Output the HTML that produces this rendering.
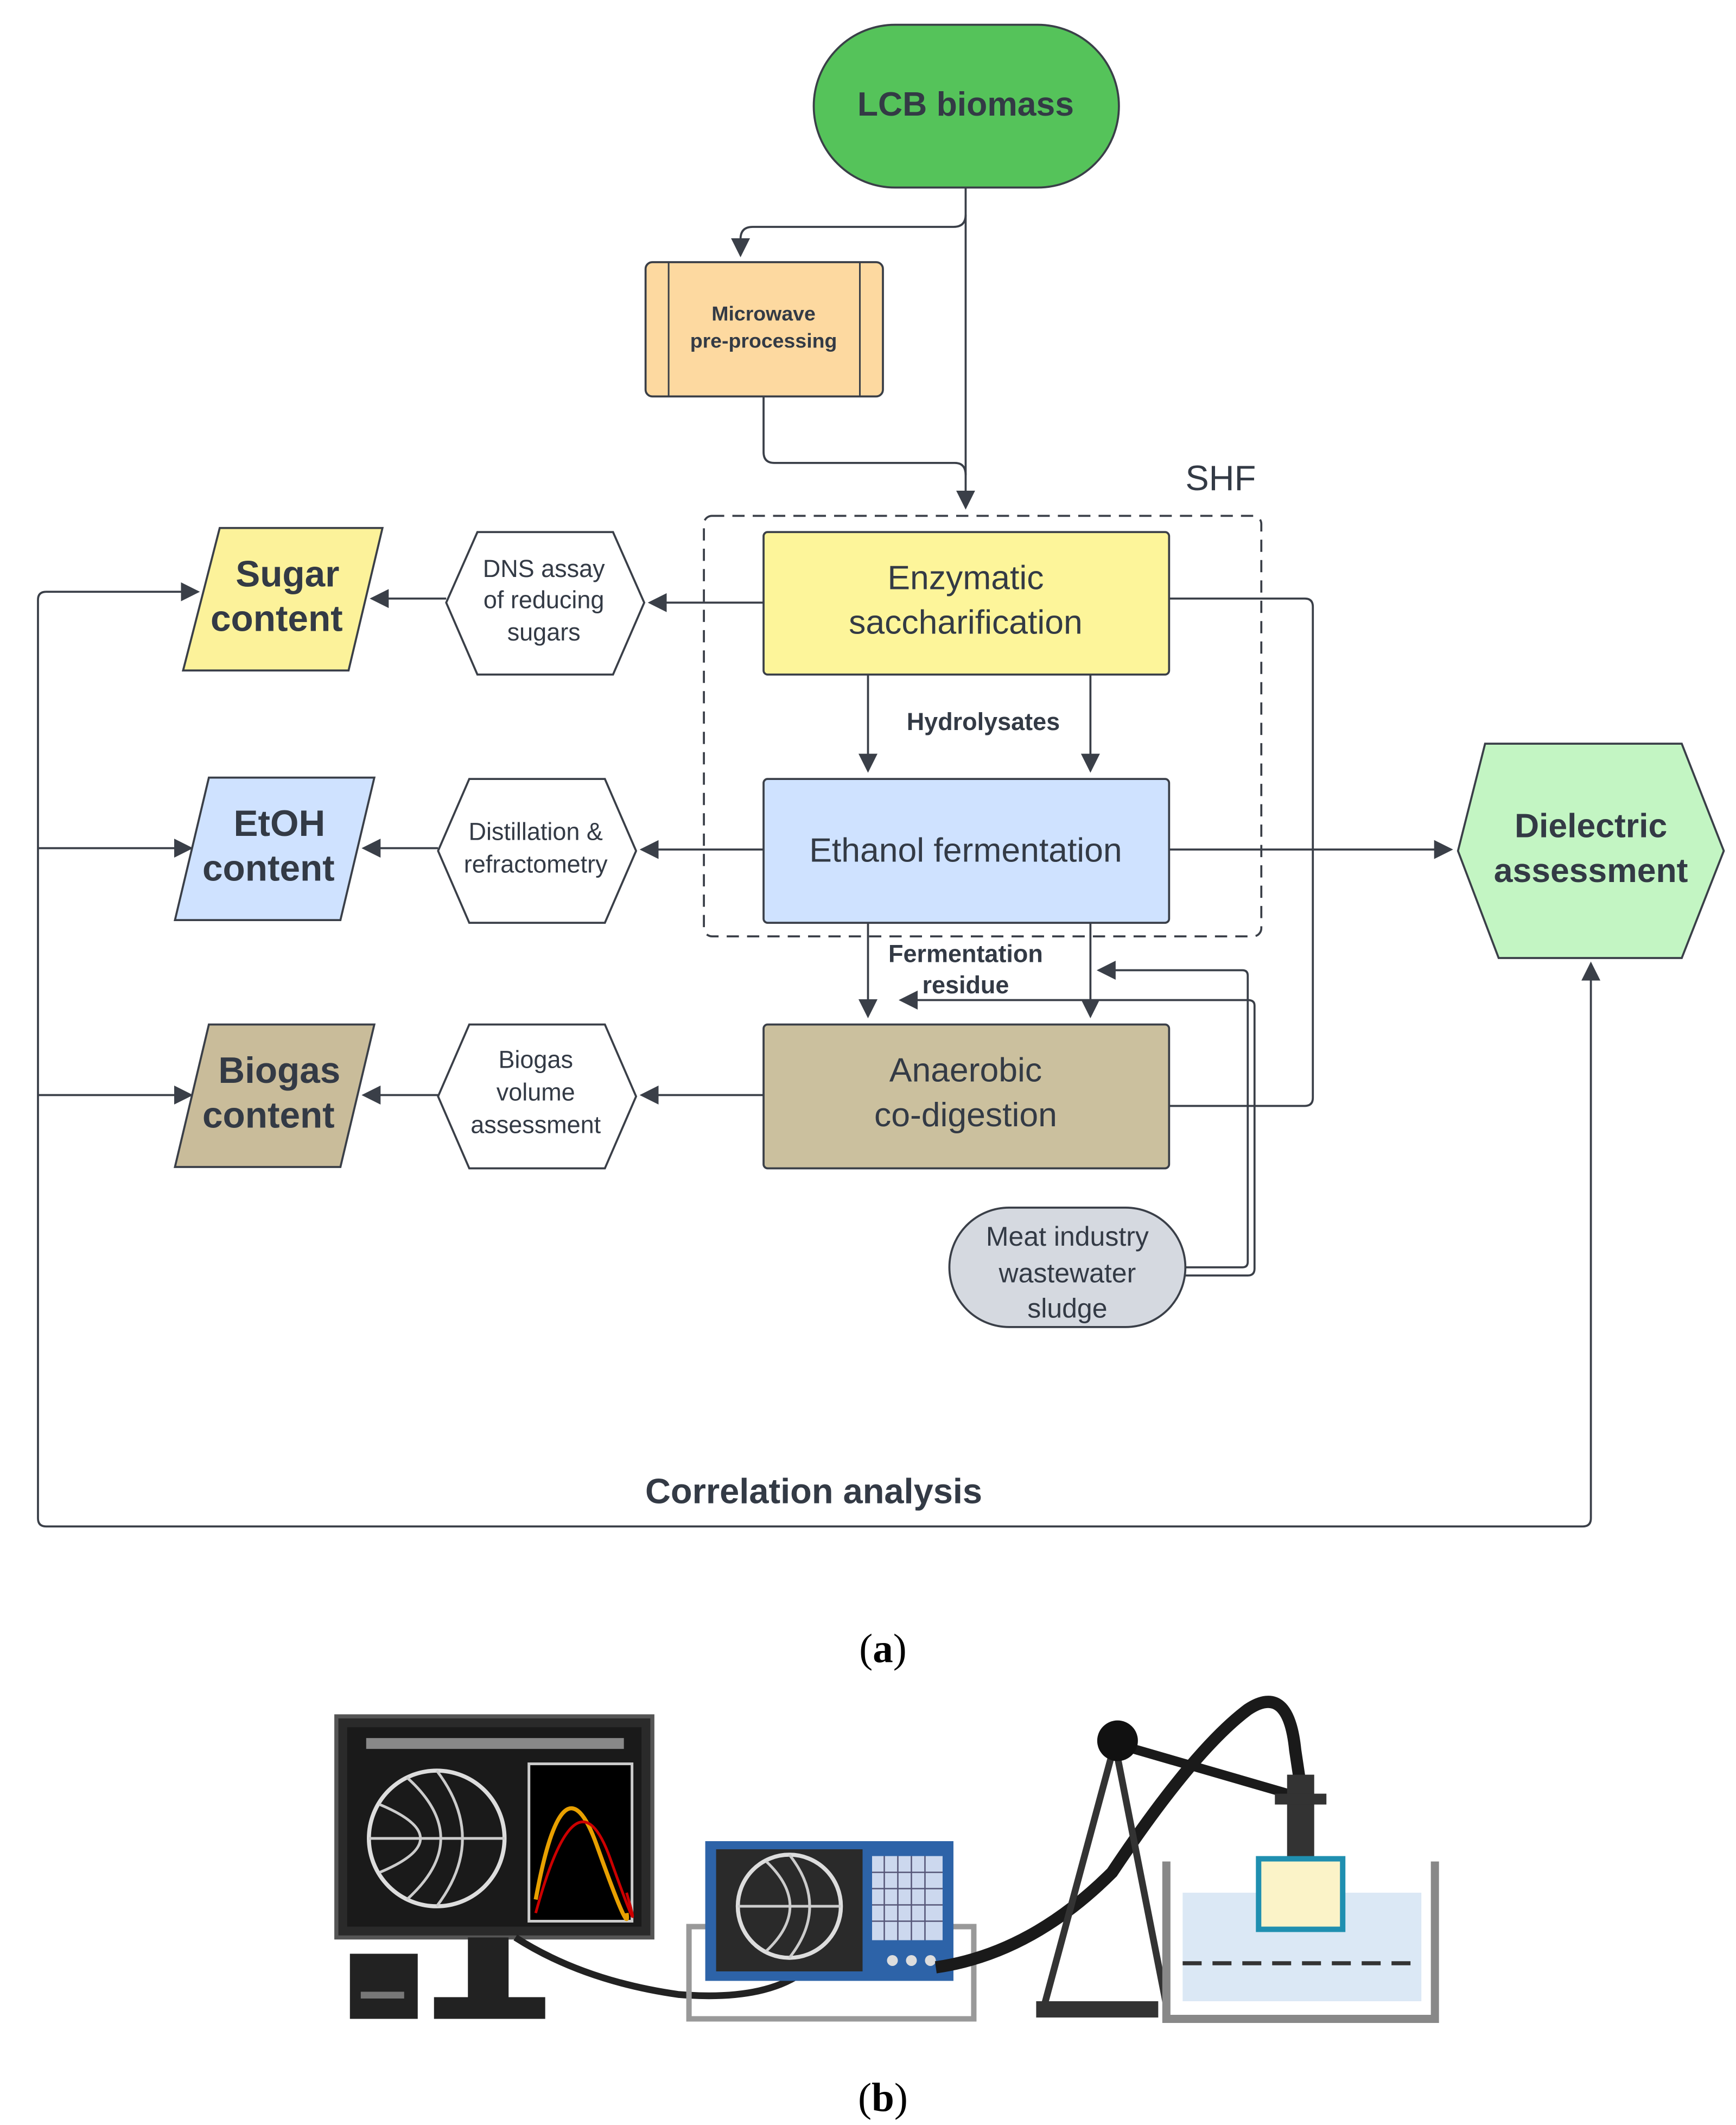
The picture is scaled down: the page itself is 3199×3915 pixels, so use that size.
<!DOCTYPE html>
<html><head><meta charset="utf-8"><style>
html,body{margin:0;padding:0;background:#fff}
svg{display:block}
text{font-family:"Liberation Sans",sans-serif;fill:#333a45}
</style></head><body>
<svg width="3199" height="3915" viewBox="0 0 1280 1566" xmlns="http://www.w3.org/2000/svg">
<defs>
<marker id="b" viewBox="0 0 10 10" refX="9" refY="5" markerWidth="14" markerHeight="14" markerUnits="userSpaceOnUse" orient="auto"><path d="M0,0 L10,5 L0,10 z" fill="#3a3f48"/></marker>
</defs>
<rect width="1280" height="1566" fill="#fff"/>
<g stroke="#3a3f48" stroke-width="1.5" fill="none">
<path d="M712,138 V374" marker-end="url(#b)"/>
<path d="M712,158 Q712,167 703,167 H555 Q546,167 546,176 V188" marker-end="url(#b)"/>
<path d="M563,292 V333 Q563,341 571,341 H704 Q712,341 712,350"/>
<rect x="519" y="380" width="411" height="310" rx="6" stroke-dasharray="9,6"/>
<path d="M640,497 V568" marker-end="url(#b)"/>
<path d="M804,497 V568" marker-end="url(#b)"/>
<path d="M640,680 V749" marker-end="url(#b)"/>
<path d="M804,680 V749" marker-end="url(#b)"/>
<path d="M874,934 H916 Q920,934 920,930 V719 Q920,715 916,715 H810" marker-end="url(#b)"/>
<path d="M874,940 H920 Q925,940 925,935 V741 Q925,737 920,737 H664" marker-end="url(#b)"/>
<path d="M862,441 H962 Q968,441 968,447 V809 Q968,815 962,815 H862"/>
<path d="M862,626 H1070" marker-end="url(#b)"/>
<path d="M563,444 H479" marker-end="url(#b)"/>
<path d="M329,441 H274" marker-end="url(#b)"/>
<path d="M563,626 H473" marker-end="url(#b)"/>
<path d="M323,625 H268" marker-end="url(#b)"/>
<path d="M563,807 H473" marker-end="url(#b)"/>
<path d="M323,807 H268" marker-end="url(#b)"/>
<path d="M34,436 Q28,436 28,442 V1119 Q28,1125 34,1125 H1167 Q1173,1125 1173,1119 V710" marker-end="url(#b)"/>
<path d="M34,436 H146" marker-end="url(#b)"/>
<path d="M28,625 H141" marker-end="url(#b)"/>
<path d="M28,807 H141" marker-end="url(#b)"/>
</g>
<g stroke="#3a3f48" stroke-width="1.5">
<rect x="600" y="18" width="225" height="120" rx="60" fill="#55c35a"/>
<rect x="476" y="193" width="175" height="99" rx="5" fill="#fdd9a0"/>
<rect x="563" y="392" width="299" height="105" rx="3" fill="#fdf59a"/>
<rect x="563" y="574" width="299" height="106" rx="3" fill="#cfe2ff"/>
<rect x="563" y="755" width="299" height="106" rx="3" fill="#cbc09e"/>
<rect x="700" y="890" width="174" height="88" rx="44" fill="#d5d9e0"/>
<polygon points="1095,548 1240,548 1271,627 1240,706 1105,706 1075,627" fill="#c3f5c3"/>
<polygon points="352,392 452,392 475,444 452,497 352,497 329,444" fill="#fff"/>
<polygon points="346,574 446,574 469,627 446,680 346,680 323,627" fill="#fff"/>
<polygon points="346,755 446,755 469,808 446,861 346,861 323,808" fill="#fff"/>
<polygon points="162,389 282,389 257,494 135,494" fill="#fcf29a"/>
<polygon points="154,573 276,573 251,678 129,678" fill="#cfe2ff"/>
<polygon points="154,755 276,755 251,860 129,860" fill="#c9bc9a"/>
</g>
<g stroke="#3a3f48" stroke-width="1.2"><line x1="493" y1="193" x2="493" y2="292"/><line x1="634" y1="193" x2="634" y2="292"/></g>
<g text-anchor="middle">
<text x="712" y="85" font-size="25" font-weight="bold">LCB biomass</text>
<text x="563" y="236" font-size="15" font-weight="bold">Microwave</text>
<text x="563" y="256" font-size="15" font-weight="bold">pre-processing</text>
<text x="900" y="361" font-size="26">SHF</text>
<text x="712" y="434" font-size="25">Enzymatic</text>
<text x="712" y="467" font-size="25">saccharification</text>
<text x="725" y="538" font-size="18" font-weight="bold">Hydrolysates</text>
<text x="712" y="635" font-size="25">Ethanol fermentation</text>
<text x="712" y="709" font-size="18" font-weight="bold">Fermentation</text>
<text x="712" y="732" font-size="18" font-weight="bold">residue</text>
<text x="712" y="797" font-size="25">Anaerobic</text>
<text x="712" y="830" font-size="25">co-digestion</text>
<text x="787" y="918" font-size="20">Meat industry</text>
<text x="787" y="945" font-size="20">wastewater</text>
<text x="787" y="971" font-size="20">sludge</text>
<text x="1173" y="617" font-size="25" font-weight="bold">Dielectric</text>
<text x="1173" y="650" font-size="25" font-weight="bold">assessment</text>
<text x="401" y="425" font-size="18">DNS assay</text>
<text x="401" y="448" font-size="18">of reducing</text>
<text x="401" y="472" font-size="18">sugars</text>
<text x="395" y="619" font-size="18">Distillation &amp;</text>
<text x="395" y="643" font-size="18">refractometry</text>
<text x="395" y="787" font-size="18">Biogas</text>
<text x="395" y="811" font-size="18">volume</text>
<text x="395" y="835" font-size="18">assessment</text>
<text x="212" y="432" font-size="27" font-weight="bold">Sugar</text>
<text x="204" y="465" font-size="27" font-weight="bold">content</text>
<text x="206" y="616" font-size="27" font-weight="bold">EtOH</text>
<text x="198" y="649" font-size="27" font-weight="bold">content</text>
<text x="206" y="798" font-size="27" font-weight="bold">Biogas</text>
<text x="198" y="831" font-size="27" font-weight="bold">content</text>
<text x="600" y="1108" font-size="26" font-weight="bold">Correlation analysis</text>
<text x="651" y="1225" font-size="30" style="font-family:'Liberation Serif',serif;fill:#000">(<tspan font-weight="bold">a</tspan>)</text>
<text x="651" y="1556" font-size="30" style="font-family:'Liberation Serif',serif;fill:#000">(<tspan font-weight="bold">b</tspan>)</text>
</g>
<g>
<rect x="248" y="1265" width="233" height="163" fill="#2a2a2a" stroke="#555" stroke-width="3"/>
<rect x="256" y="1273" width="217" height="147" fill="#1a1a1a"/>
<rect x="270" y="1281" width="190" height="8" fill="#888"/>
<circle cx="322" cy="1355" r="50" fill="none" stroke="#ddd" stroke-width="3"/>
<path d="M272,1355 H372 M322,1305 Q360,1355 322,1405 M300,1310 Q350,1355 300,1400 M280,1330 Q340,1355 280,1380" stroke="#ccc" stroke-width="2" fill="none"/>
<rect x="390" y="1300" width="76" height="116" fill="#000" stroke="#ccc" stroke-width="2"/>
<path d="M395,1400 Q415,1290 440,1360 T462,1410" stroke="#e8a000" stroke-width="3" fill="none"/>
<path d="M395,1410 Q425,1300 450,1370 T462,1395" stroke="#c00" stroke-width="2" fill="none"/>
<rect x="345" y="1428" width="30" height="48" fill="#222"/>
<rect x="320" y="1472" width="82" height="16" fill="#222"/>
<rect x="258" y="1440" width="50" height="48" fill="#222"/>
<rect x="266" y="1468" width="32" height="5" fill="#777"/>
<path d="M380,1428 Q430,1460 500,1470 Q560,1475 590,1455" stroke="#222" stroke-width="5" fill="none"/>
<rect x="508" y="1420" width="210" height="68" fill="none" stroke="#999" stroke-width="4"/>
<rect x="520" y="1357" width="183" height="103" fill="#2d63a8"/>
<rect x="528" y="1363" width="108" height="90" fill="#2a2a2a"/>
<circle cx="582" cy="1405" r="38" fill="none" stroke="#ddd" stroke-width="3"/>
<path d="M544,1405 H620 M582,1367 Q612,1405 582,1443 M565,1372 Q600,1405 565,1438" stroke="#ccc" stroke-width="2" fill="none"/>
<rect x="643" y="1368" width="52" height="62" fill="#ccd8ee"/>
<path d="M652,1368 V1430 M662,1368 V1430 M672,1368 V1430 M682,1368 V1430 M643,1380 H695 M643,1392 H695 M643,1404 H695 M643,1416 H695" stroke="#557" stroke-width="1"/>
<circle cx="658" cy="1445" r="4" fill="#ddd"/><circle cx="672" cy="1445" r="4" fill="#ddd"/><circle cx="686" cy="1445" r="4" fill="#ddd"/>
<path d="M690,1450 Q760,1440 820,1380 Q880,1290 920,1260 Q950,1240 955,1290 L958,1310" stroke="#1a1a1a" stroke-width="9" fill="none"/>
<path d="M770,1478 L822,1285 M822,1285 L860,1478" stroke="#333" stroke-width="5" fill="none"/>
<path d="M822,1285 L960,1325" stroke="#1a1a1a" stroke-width="7"/>
<circle cx="824" cy="1283" r="15" fill="#111"/>
<rect x="764" y="1475" width="90" height="12" fill="#333"/>
<rect x="949" y="1308" width="20" height="80" fill="#333"/>
<rect x="940" y="1322" width="38" height="8" fill="#333"/>
<rect x="930" y="1386" width="56" height="12" fill="#333"/>
<rect x="872" y="1395" width="176" height="80" fill="#dbe8f5"/>
<rect x="928" y="1370" width="62" height="52" fill="#fbf3c8" stroke="#1f8fb0" stroke-width="4"/>
<path d="M872,1447 H1048" stroke="#333" stroke-width="3" stroke-dasharray="14,8"/>
<path d="M860,1372 V1488 H1058 V1372" fill="none" stroke="#888" stroke-width="6"/>
</g>
</svg>
</body></html>
